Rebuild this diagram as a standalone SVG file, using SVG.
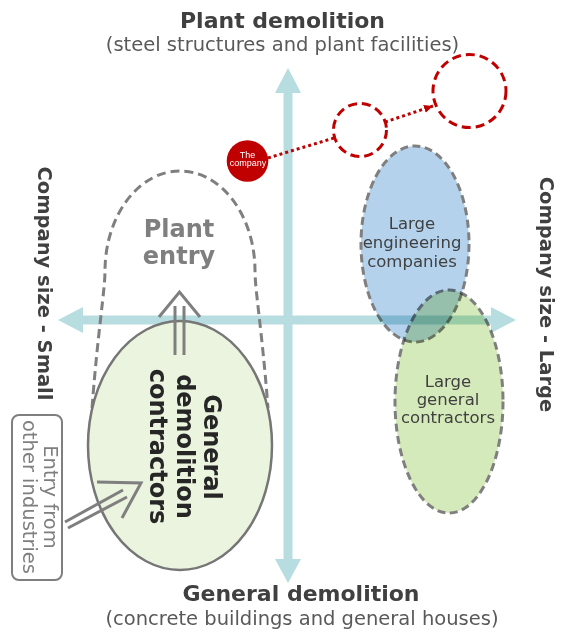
<svg xmlns="http://www.w3.org/2000/svg" width="564" height="638" viewBox="0 0 564 638">
<defs>
<style>
.axis{fill:#B7DDE1}
.t{font-family:"DejaVu Sans",Verdana,sans-serif}
.ttl{font-weight:bold;font-size:22px;fill:#404040}
.sub{font-size:19.5px;fill:#595959}
.side{font-weight:bold;font-size:19.5px;fill:#404040}
.dashg{fill:none;stroke:#7f7f7f;stroke-width:3;stroke-dasharray:9 5}
.red{fill:none;stroke:#C00000;stroke-width:3;stroke-dasharray:9 5}
.dot{fill:none;stroke:#C00000;stroke-width:3;stroke-dasharray:3 3}
.garrow{fill:none;stroke:#7f7f7f;stroke-width:3}
.mult{mix-blend-mode:multiply}
.lbl{font-size:16.5px;fill:#404040}
</style>
<marker id="redhead" markerWidth="10" markerHeight="10" refX="9" refY="4" orient="auto" markerUnits="userSpaceOnUse"><path d="M0,0 L9,4 L0,8 Z" fill="#C00000"/></marker>
</defs>
<rect width="564" height="638" fill="#ffffff"/>

<g id="axes">
<path class="axis" d="M288,68 L301,93 L292.5,93 L292.5,559 L301,559 L288,583 L275,559 L283.5,559 L283.5,93 L275,93 Z"/>
<path class="axis" d="M58,320 L83,307 L83,315.5 L491,315.5 L491,307 L516,320 L491,333 L491,324.5 L83,324.5 L83,333 Z"/>
</g>

<g id="axis-labels" class="t">
<text class="ttl" x="282.5" y="28" text-anchor="middle">Plant demolition</text>
<text class="sub" x="282.5" y="51" text-anchor="middle">(steel structures and plant facilities)</text>
<text class="ttl" x="301" y="601" text-anchor="middle">General demolition</text>
<text class="sub" x="302" y="625" text-anchor="middle">(concrete buildings and general houses)</text>
<text class="side" transform="translate(38,283.5) rotate(90)" text-anchor="middle">Company size - Small</text>
<text class="side" transform="translate(540,294.5) rotate(90)" text-anchor="middle">Company size - Large</text>
</g>

<g id="plant-entry">
<path class="dashg" d="M92,408 C98,330 105,290 105,271 A75,100 0 0 1 255,271 C255,290 262,330 268,408"/>
<text class="t" x="179" y="237" text-anchor="middle" font-weight="bold" font-size="24" fill="#7f7f7f">Plant</text>
<text class="t" x="179" y="264" text-anchor="middle" font-weight="bold" font-size="24" fill="#7f7f7f">entry</text>
</g>

<g id="general-demolition-contractors">
<ellipse cx="180" cy="445.5" rx="92" ry="124.5" fill="#EBF4DE" stroke="#767676" stroke-width="2.5"/>
<g class="t" font-weight="bold" font-size="24" fill="#262626" text-anchor="middle">
<text transform="translate(204,447) rotate(90)">General</text>
<text transform="translate(177,446.5) rotate(90)">demolition</text>
<text transform="translate(150,446.5) rotate(90)">contractors</text>
</g>
</g>

<g id="other-industries">
<rect x="12" y="415" width="50" height="165" rx="7" fill="#ffffff" stroke="#7f7f7f" stroke-width="2"/>
<g class="t" font-size="19.5" fill="#7f7f7f" text-anchor="middle">
<text transform="translate(44,497) rotate(90)">Entry from</text>
<text transform="translate(22.5,497) rotate(90)">other industries</text>
</g>
</g>

<g id="large-engineering-companies" class="mult">
<ellipse cx="415" cy="244" rx="54" ry="98" fill="#B4D2EC" stroke="#7f7f7f" stroke-width="3" stroke-dasharray="8 4.5"/>
<g class="t lbl" text-anchor="middle">
<text x="412" y="229">Large</text>
<text x="412" y="248">engineering</text>
<text x="412" y="267">companies</text>
</g>
</g>

<g id="large-general-contractors" class="mult">
<ellipse cx="449" cy="401.5" rx="54" ry="111.5" fill="#D5EABA" stroke="#7f7f7f" stroke-width="3" stroke-dasharray="8 4.5"/>
<g class="t lbl" text-anchor="middle">
<text x="448" y="387">Large</text>
<text x="448" y="405">general</text>
<text x="448" y="423">contractors</text>
</g>
</g>

<g id="connectors">
<g id="plant-entry-arrow" class="garrow">
<line x1="175" y1="355" x2="175" y2="306"/>
<line x1="184" y1="355" x2="184" y2="306"/>
<polyline points="159,317 179.5,292 200,317"/>
</g>
<g id="industry-entry-arrow" class="garrow">
<line x1="65" y1="522" x2="123" y2="490"/>
<line x1="68" y1="528" x2="127" y2="497"/>
<polyline points="97,482 141,483 122,518"/>
</g>
<line class="dot" x1="268" y1="158" x2="334" y2="138"/>
<line class="dot" x1="385" y1="122" x2="433" y2="106" marker-end="url(#redhead)"/>
</g>

<g id="target-mid">
<circle class="red" cx="360" cy="130" r="26.5"/>
</g>
<g id="target-large">
<circle class="red" cx="469.5" cy="91" r="36.5"/>
</g>

<g id="the-company">
<circle cx="247.5" cy="161" r="20.8" fill="#C00000"/>
<g font-family="'Liberation Sans',Arial,sans-serif" font-size="9" fill="#ffffff" text-anchor="middle">
<text x="247.5" y="157.5">The</text>
<text x="248" y="166">company</text>
</g>
</g>
</svg>
